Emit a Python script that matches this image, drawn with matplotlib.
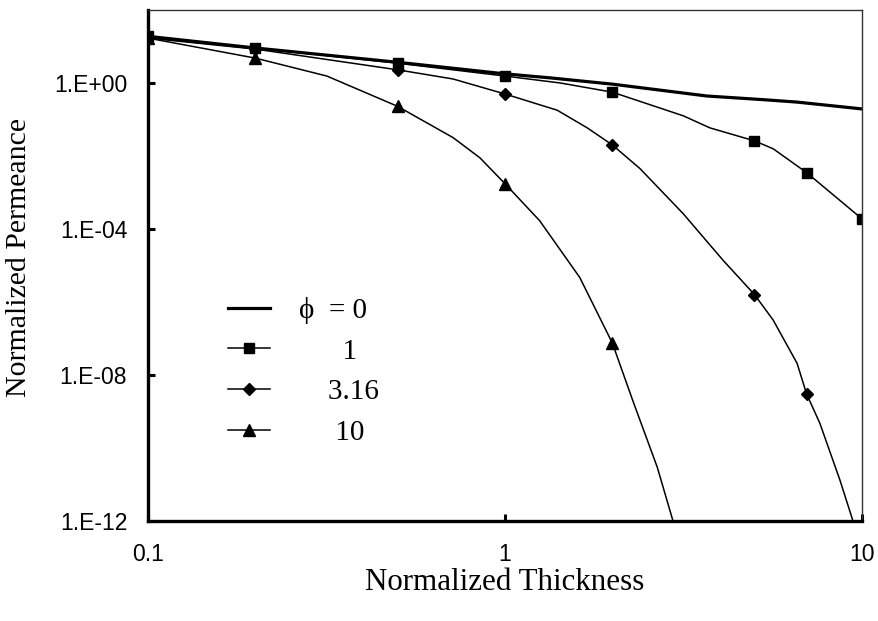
import matplotlib
matplotlib.use('Agg')
import matplotlib.pyplot as plt
from matplotlib.ticker import FixedLocator, NullLocator

# values (log-log axes)
x_phi0 = [0.1, 0.2, 0.5, 1, 1.34, 2, 3.68, 5.28, 6.58, 10]
y_phi0 = [19, 9.1, 3.7, 1.78, 1.38, 0.93, 0.44, 0.35, 0.30, 0.195]

x_phi1 = [0.1, 0.2, 0.5, 1, 1.43, 2, 3.16, 3.75, 5, 5.64, 7, 10]
y_phi1 = [19, 9.1, 3.5, 1.55, 1.0, 0.56, 0.126, 0.059, 0.026, 0.0158, 0.0035, 1.9e-4]

x_phi316 = [0.1, 0.2, 0.5, 0.715, 1, 1.40, 1.70, 2, 2.39, 3.16, 4.08, 5, 5.64,
            6.58, 7, 7.62, 8.67, 10]
y_phi316 = [17, 8.5, 2.3, 1.29, 0.50, 0.18, 0.059, 0.020, 4.5e-3, 2.6e-4, 1.4e-5,
            1.6e-6, 3.2e-7, 2.1e-8, 3.0e-9, 4.8e-10, 1.35e-11, 1.7e-13]

x_phi10 = [0.1, 0.2, 0.317, 0.5, 0.715, 0.851, 1, 1.25, 1.62, 2, 2.28, 2.67, 2.94, 3.2]
y_phi10 = [17, 4.8, 1.55, 0.23, 0.032, 8.9e-3, 1.74e-3, 1.7e-4, 4.7e-6, 7.4e-8,
           2.0e-9, 3.0e-11, 1.2e-12, 8e-14]

# thicknesses where the original data points carry a marker
marker_x = [0.1, 0.2, 0.5, 1, 2, 5, 7, 10]

legend_labels = ['\u03d5  = 0', '      1', '    3.16', '     10']
x_ticks = [0.1, 1, 10]
x_tick_labels = ['0.1', '1', '10']
y_ticks = [1e-12, 1e-8, 1e-4, 1e0]
y_tick_labels = ['1.E-12', '1.E-08', '1.E-04', '1.E+00']

serif = ['Liberation Serif', 'DejaVu Serif']
sans = ['Liberation Sans', 'DejaVu Sans']


def marks(xs):
    return [i for i, v in enumerate(xs) if v in marker_x]


fig = plt.figure(figsize=(8.79, 6.21), dpi=100)
ax = fig.add_axes([0.1684, 0.161, 0.8122, 0.8229])

l0, = ax.plot(x_phi0, y_phi0, color='black', lw=2.3)
l1, = ax.plot(x_phi1, y_phi1, color='black', lw=1.1, marker='s', ms=7,
              markevery=marks(x_phi1))
l2, = ax.plot(x_phi316, y_phi316, color='black', lw=1.1, marker='D', ms=6,
              markevery=marks(x_phi316))
l3, = ax.plot(x_phi10, y_phi10, color='black', lw=1.1, marker='^', ms=8,
              markevery=marks(x_phi10))

ax.set_xscale('log')
ax.set_yscale('log')
ax.set_xlim(0.1, 10)
ax.set_ylim(1e-12, 1e2)

ax.xaxis.set_major_locator(FixedLocator(x_ticks))
ax.yaxis.set_major_locator(FixedLocator(y_ticks))
ax.xaxis.set_minor_locator(NullLocator())
ax.yaxis.set_minor_locator(NullLocator())
ax.set_xticklabels(x_tick_labels, family=sans, fontsize=16.5)
ax.set_yticklabels(y_tick_labels, family=sans, fontsize=16.5)
ax.tick_params(axis='both', direction='in', length=5, width=2.2,
               top=False, right=False)
ax.tick_params(axis='y', pad=15)
ax.tick_params(axis='x', pad=16)

for side in ['left', 'bottom']:
    ax.spines[side].set_linewidth(2.4)
for side in ['top', 'right']:
    ax.spines[side].set_linewidth(1.0)
    ax.spines[side].set_color('#333333')

ax.set_xlabel('Normalized Thickness', family=serif, fontsize=22.3)
ax.set_ylabel('Normalized Permeance', family=serif, fontsize=21.5)
ax.xaxis.set_label_coords(0.5, -0.091)
ax.yaxis.set_label_coords(-0.162, 0.515)

leg = ax.legend([l0, l1, l2, l3], legend_labels, loc='upper left',
                bbox_to_anchor=(0.075, 0.49), frameon=False,
                prop={'family': serif, 'size': 21}, handlelength=1.45,
                handletextpad=1.0, labelspacing=0.49)

fig.savefig('out.png', dpi=100)
